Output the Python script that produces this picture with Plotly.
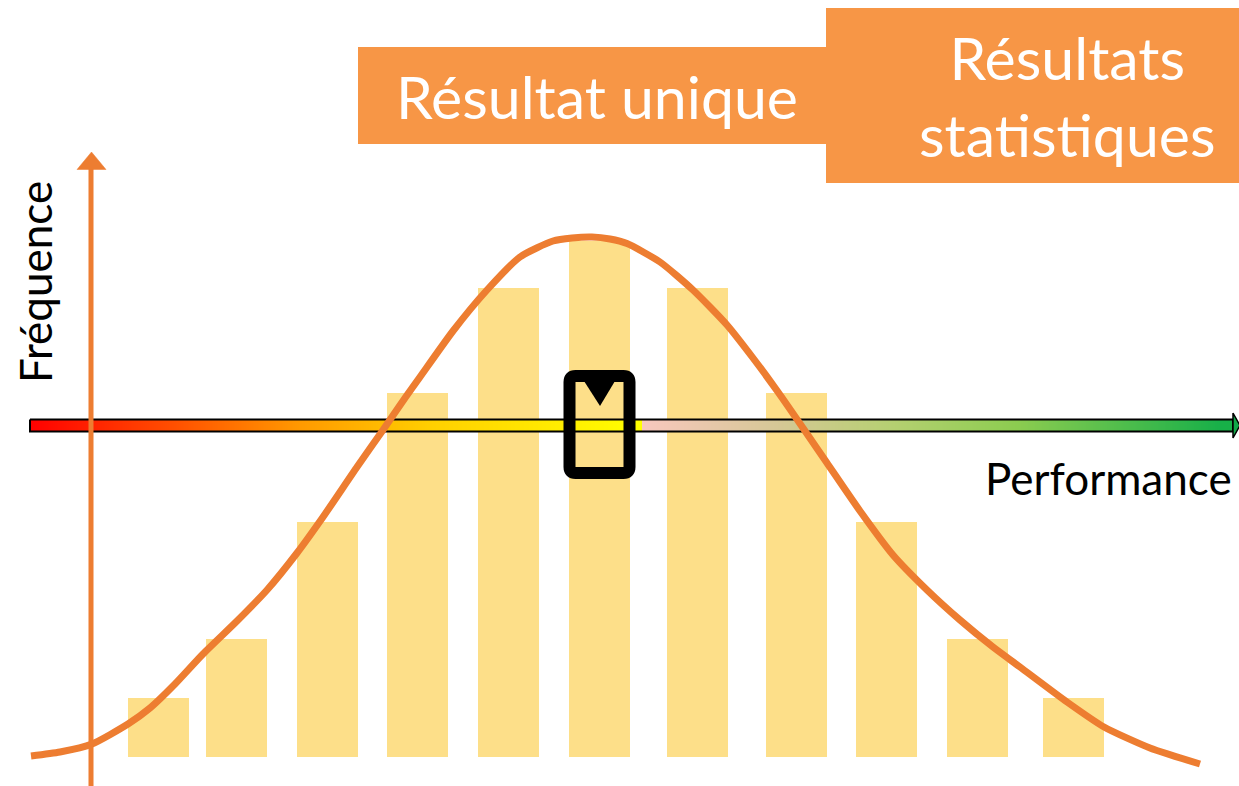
import numpy as np
import plotly.graph_objects as go

W, H = 1239, 786

# ---- data (pixel-space diagram coordinates, y measured from top) ----
bar_centres = [158.5, 236.5, 327.5, 417.5, 508.5, 599.5, 697.5, 796.5, 886.5, 977.5, 1073.5]
bar_freq = [59, 118, 235, 364, 469, 516, 469, 364, 235, 118, 59]
bar_width = 61
bar_base = 757

curve_x = [31, 60, 92, 128, 150, 175, 203, 237, 267, 297, 323, 357, 383, 405, 420, 453, 487,
           520, 553, 572, 592, 610, 627, 660, 693, 727, 753, 778, 803, 827, 860, 893, 927, 960,
           993, 1020, 1067, 1104, 1150, 1200]
curve_y = [756, 752, 744, 724, 708, 684, 654, 621, 590, 553, 517, 467, 430, 398, 377, 331, 290,
           257, 241, 238, 237, 239, 243.5, 262, 290, 325, 358, 392, 428, 463, 511, 555, 590, 620,
           647, 667, 702, 727, 748, 764]

title_single = "Résultat unique"
title_stats = "Résultats<br>statistiques"
label_y = "Fréquence"
label_x = "Performance"

ORANGE = "#ED7D31"
BOX = "#F79646"
BAR = "#FDDF89"
FONT = "Lato"

fig = go.Figure()

# histogram bars
fig.add_trace(go.Bar(
    x=bar_centres, y=[-f for f in bar_freq], base=[bar_base] * len(bar_freq),
    width=[bar_width] * len(bar_freq), marker=dict(color=BAR, line=dict(width=0)),
    hoverinfo="skip", showlegend=False))

# gradient performance arrow shaft (overlapping square markers, 1px steps)
x0, x1 = 30, 1233
sq = 12
cx = np.arange(x0 + sq / 2, x1 - sq / 2 + 0.5, 1.0)
frac = (cx - sq / 2 - x0) / (x1 - x0)
cscale = [[0, "#FF0000"], [0.12, "#FF5000"], [0.225, "#FF9A00"], [0.335, "#FFD000"],
          [0.508, "#FFFF00"], [0.5085, "#F8C8BE"], [0.62, "#D6C896"], [0.72, "#B4D070"],
          [0.82, "#8CCC50"], [1, "#10AE48"]]
fig.add_trace(go.Scatter(
    x=cx, y=[425.5] * len(cx), mode="markers",
    marker=dict(symbol="square", size=sq, color=frac, colorscale=cscale, cmin=0, cmax=1,
                line=dict(width=0)),
    hoverinfo="skip", showlegend=False))
# outline
fig.add_trace(go.Scatter(
    x=[x0, x1, x1, x0, x0], y=[419.5, 419.5, 431.5, 431.5, 419.5], mode="lines",
    line=dict(color="black", width=2), hoverinfo="skip", showlegend=False))
# arrow head
fig.add_trace(go.Scatter(
    x=[x1, 1240, x1, x1], y=[413, 425.5, 438, 413], mode="lines", fill="toself",
    fillcolor="#10A848", line=dict(color="black", width=1.5), hoverinfo="skip",
    showlegend=False))

# vertical frequency axis
fig.add_trace(go.Scatter(
    x=[91, 91], y=[790, 166], mode="lines", line=dict(color=ORANGE, width=5),
    hoverinfo="skip", showlegend=False))
fig.add_trace(go.Scatter(
    x=[77, 106, 91.5, 77], y=[169.5, 169.5, 152, 169.5], mode="lines", fill="toself",
    fillcolor=ORANGE, line=dict(color=ORANGE, width=0.5), hoverinfo="skip",
    showlegend=False))

# distribution curve
fig.add_trace(go.Scatter(
    x=curve_x, y=curve_y, mode="lines",
    line=dict(color=ORANGE, width=7, shape="spline", smoothing=0.6),
    hoverinfo="skip", showlegend=False))

shapes = [
    dict(type="rect", xref="x", yref="y", x0=358, x1=826, y0=47, y1=144,
         fillcolor=BOX, line=dict(width=0), layer="below"),
    dict(type="rect", xref="x", yref="y", x0=826, x1=1245, y0=8, y1=183,
         fillcolor=BOX, line=dict(width=0), layer="below"),
    # single-result marker
    dict(type="path", xref="x", yref="y",
         path="M 575.5,376 L 623.5,376 Q 629.5,376 629.5,382 L 629.5,467 Q 629.5,473 623.5,473 "
              "L 575.5,473 Q 569.5,473 569.5,467 L 569.5,382 Q 569.5,376 575.5,376 Z",
         line=dict(color="black", width=12), fillcolor="rgba(0,0,0,0)", layer="above"),
    dict(type="path", xref="x", yref="y",
         path="M 584,381 L 615,381 L 600,406 Z",
         line=dict(color="black", width=0), fillcolor="black", layer="above"),
]

annotations = [
    dict(x=597, y=96, xref="x", yref="y", text=title_single, showarrow=False,
         font=dict(family=FONT, size=59, color="white"), xanchor="center", yanchor="middle"),
    dict(x=1067, y=96, xref="x", yref="y", text=title_stats, showarrow=False,
         font=dict(family=FONT, size=59, color="white"), xanchor="center", yanchor="middle"),
    dict(x=35, y=282, xref="x", yref="y", text=label_y, showarrow=False, textangle=-90,
         font=dict(family=FONT, size=44, color="black"), xanchor="center", yanchor="middle"),
    dict(x=1108, y=478, xref="x", yref="y", text=label_x, showarrow=False,
         font=dict(family=FONT, size=44, color="black"), xanchor="center", yanchor="middle"),
]

fig.update_layout(
    width=W, height=H, margin=dict(l=0, r=0, t=0, b=0),
    paper_bgcolor="white", plot_bgcolor="white",
    xaxis=dict(range=[0, W], visible=False, fixedrange=True),
    yaxis=dict(range=[H, 0], visible=False, fixedrange=True),
    shapes=shapes, annotations=annotations, bargap=0, showlegend=False,
)

fig.write_html("out.html", config={"displayModeBar": False},
               post_script="document.body.style.margin='0';document.body.style.overflow='hidden';")
